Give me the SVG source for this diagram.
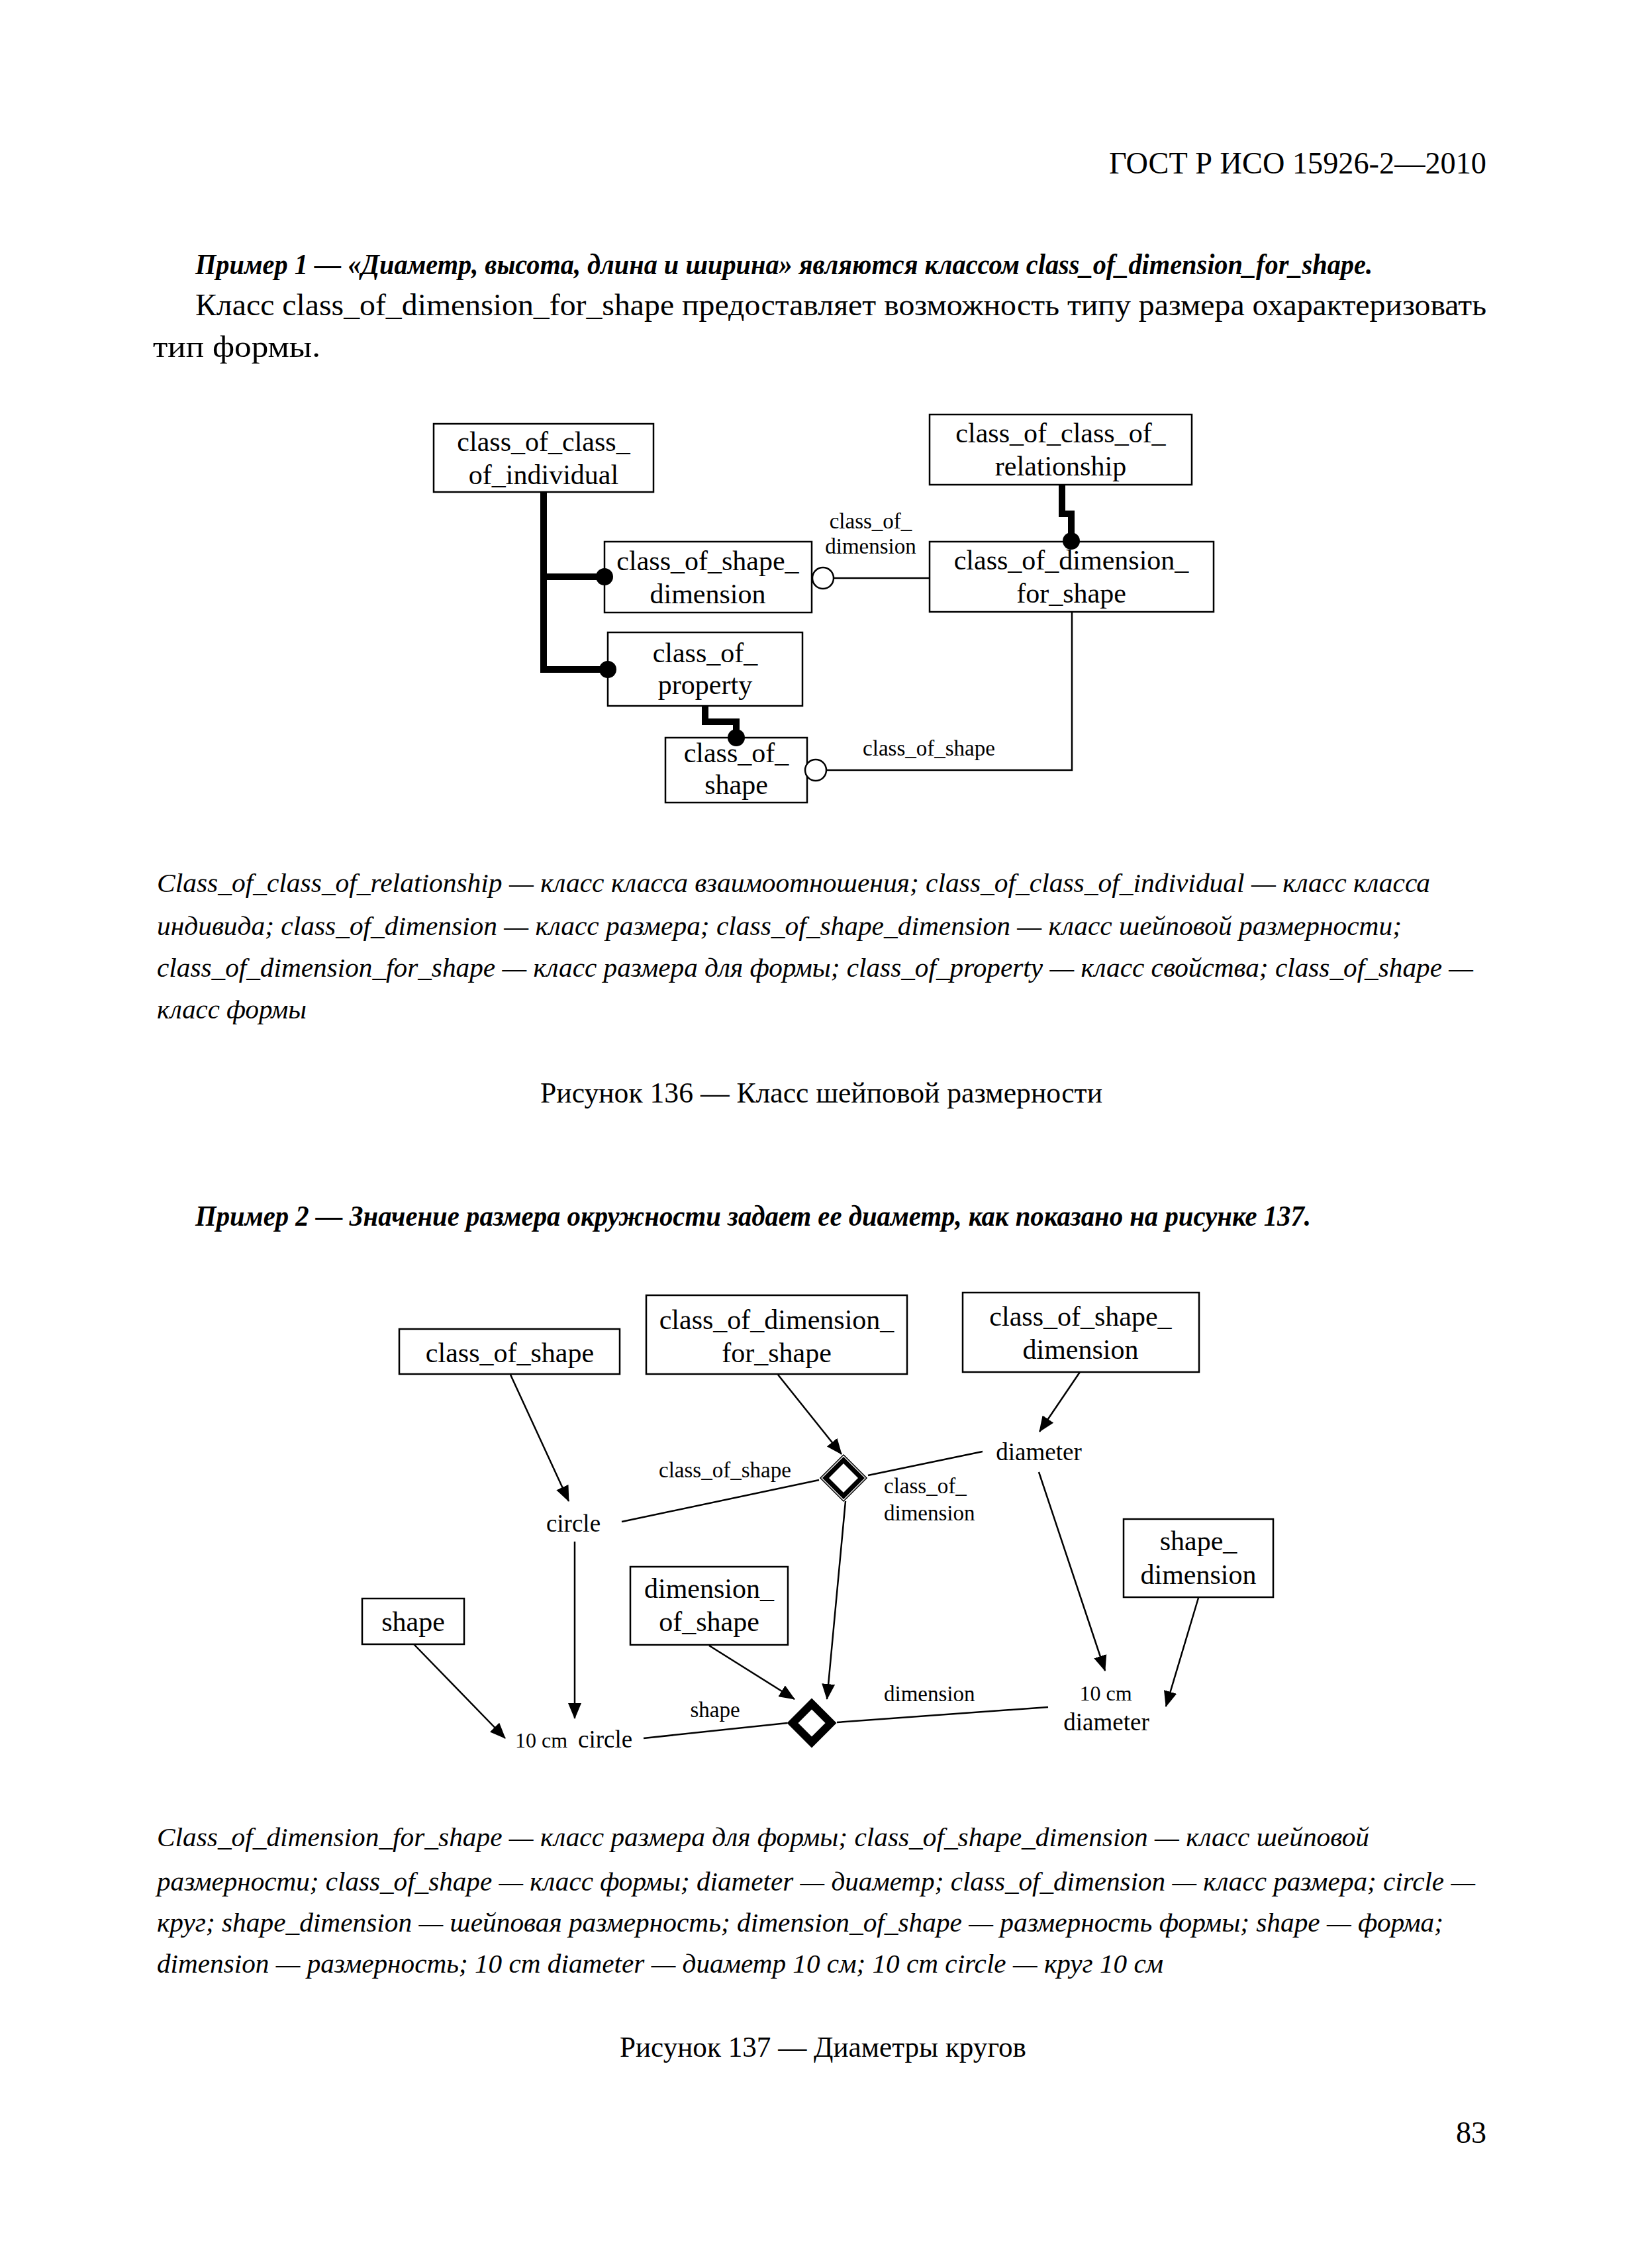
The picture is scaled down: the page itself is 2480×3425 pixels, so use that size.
<svg xmlns="http://www.w3.org/2000/svg" width="2480" height="3425" viewBox="0 0 2480 3425">
<style>
text{font-family:"Liberation Serif","Times New Roman",serif;fill:#000}
.hdr{font-size:46px}
.body{font-size:46px}
.exm{font-size:44px;font-style:italic;font-weight:bold}
.cap{font-size:41px;font-style:italic}
.ttl{font-size:44px}
.bx{font-size:42px;text-anchor:middle}
.lb{font-size:33px}
.lbm{font-size:33px;text-anchor:middle}
.nd{font-size:37px}
.ndm{font-size:37px;text-anchor:middle}
.sm{font-size:32px}
.box{fill:#fff;stroke:#000;stroke-width:2.5}
.thin{fill:none;stroke:#000;stroke-width:2.5}
.thick{fill:none;stroke:#000;stroke-width:10;stroke-linejoin:miter}
.arr{fill:none;stroke:#000;stroke-width:2.5;marker-end:url(#ah)}
.dot{fill:#000}
.oc{fill:#fff;stroke:#000;stroke-width:2.5}
</style>
<defs>
<marker id="ah" markerUnits="userSpaceOnUse" markerWidth="24" markerHeight="20" refX="23" refY="10" orient="auto">
<path d="M0,0 L24,10 L0,20 z" fill="#000"/>
</marker>
</defs>
<rect width="2480" height="3425" fill="#fff"/>

<!-- page text -->
<text class="hdr" x="1675" y="262" textLength="570" lengthAdjust="spacingAndGlyphs">ГОСТ Р ИСО 15926-2—2010</text>
<text class="exm" x="295" y="414" textLength="1778" lengthAdjust="spacingAndGlyphs">Пример 1 — «Диаметр, высота, длина и ширина» являются классом class_of_dimension_for_shape.</text>
<text class="body" x="295" y="476" textLength="1950" lengthAdjust="spacingAndGlyphs">Класс class_of_dimension_for_shape предоставляет возможность типу размера охарактеризовать</text>
<text class="body" x="231" y="539" textLength="253" lengthAdjust="spacingAndGlyphs">тип формы.</text>

<!-- Figure 136 connectors -->
<g id="connectors136">
<path class="thick" d="M821,743 V1011 H912"/>
<path class="thick" d="M821,871 H907"/>
<path class="thick" d="M1065,1066 V1090 H1112 V1108"/>
<path class="thick" d="M1604,732 V776 H1618 V812"/>
<path class="thin" d="M1259,873 H1404"/>
<path class="thin" d="M1619,924 V1163 H1248"/>
<text class="lbm" x="1315" y="798">class_of_</text>
<text class="lbm" x="1315" y="836">dimension</text>
<text class="lbm" x="1403" y="1141">class_of_shape</text>
</g>

<g id="n136_individual">
<rect class="box" x="655" y="640" width="332" height="103"/>
<text class="bx" x="821" y="681">class_of_class_</text>
<text class="bx" x="821" y="731">of_individual</text>
</g>
<g id="n136_relationship">
<rect class="box" x="1404" y="626" width="396" height="106"/>
<text class="bx" x="1602" y="668">class_of_class_of_</text>
<text class="bx" x="1602" y="718">relationship</text>
</g>
<g id="n136_shape_dimension">
<rect class="box" x="913" y="818" width="313" height="107"/>
<text class="bx" x="1069" y="861">class_of_shape_</text>
<text class="bx" x="1069" y="911">dimension</text>
</g>
<g id="n136_dimension_for_shape">
<rect class="box" x="1404" y="818" width="429" height="106"/>
<text class="bx" x="1618" y="860">class_of_dimension_</text>
<text class="bx" x="1618" y="910">for_shape</text>
</g>
<g id="n136_property">
<rect class="box" x="918" y="955" width="294" height="111"/>
<text class="bx" x="1065" y="1000">class_of_</text>
<text class="bx" x="1065" y="1048">property</text>
</g>
<g id="n136_class_of_shape">
<rect class="box" x="1005" y="1114" width="214" height="98"/>
<text class="bx" x="1112" y="1151">class_of_</text>
<text class="bx" x="1112" y="1199">shape</text>
</g>
<g id="ends136">
<circle class="dot" cx="913" cy="871" r="13"/>
<circle class="dot" cx="918" cy="1011" r="13"/>
<circle class="dot" cx="1112" cy="1114" r="13"/>
<circle class="dot" cx="1618" cy="817" r="13"/>
<circle class="oc" cx="1243" cy="873" r="16"/>
<circle class="oc" cx="1232" cy="1163" r="16"/>
</g>

<text class="cap" x="237" y="1347" textLength="1923" lengthAdjust="spacingAndGlyphs">Class_of_class_of_relationship — класс класса взаимоотношения; class_of_class_of_individual — класс класса</text>
<text class="cap" x="237" y="1412" textLength="1880" lengthAdjust="spacingAndGlyphs">индивида; class_of_dimension — класс размера; class_of_shape_dimension — класс шейповой размерности;</text>
<text class="cap" x="237" y="1475" textLength="1988" lengthAdjust="spacingAndGlyphs">class_of_dimension_for_shape — класс размера для формы; class_of_property — класс свойства; class_of_shape —</text>
<text class="cap" x="237" y="1538" textLength="226" lengthAdjust="spacingAndGlyphs">класс формы</text>
<text class="ttl" x="816" y="1665" textLength="849" lengthAdjust="spacingAndGlyphs">Рисунок 136 — Класс шейповой размерности</text>

<text class="exm" x="295" y="1851" textLength="1685" lengthAdjust="spacingAndGlyphs">Пример 2 — Значение размера окружности задает ее диаметр, как показано на рисунке 137.</text>

<!-- Figure 137 connectors -->
<g id="connectors137">
<path class="arr" d="M771,2076 L859,2267"/>
<path class="thin" d="M939,2298 L1237,2235"/>
<path class="arr" d="M1175,2076 L1271,2196"/>
<path class="thin" d="M1311,2228 L1484,2192"/>
<path class="arr" d="M1631,2072 L1570,2162"/>
<path class="arr" d="M1277,2267 L1249,2566"/>
<path class="arr" d="M868,2328 L868,2595"/>
<path class="arr" d="M625,2483 L763,2625"/>
<path class="arr" d="M1071,2485 L1200,2566"/>
<path class="thin" d="M972,2625 L1189,2602"/>
<path class="thin" d="M1264,2601 L1583,2578"/>
<path class="arr" d="M1569,2223 L1669,2523"/>
<path class="arr" d="M1810,2413 L1761,2577"/>
<text class="lb" x="995" y="2231">class_of_shape</text>
<text class="lb" x="1335" y="2255">class_of_</text>
<text class="lb" x="1335" y="2296">dimension</text>
<text class="lbm" x="1080" y="2593">shape</text>
<text class="lb" x="1335" y="2569">dimension</text>
</g>

<g id="n137_class_of_shape">
<rect class="box" x="603" y="2007" width="333" height="68"/>
<text class="bx" x="770" y="2057">class_of_shape</text>
</g>
<g id="n137_dimension_for_shape">
<rect class="box" x="976" y="1956" width="394" height="119"/>
<text class="bx" x="1173" y="2007">class_of_dimension_</text>
<text class="bx" x="1173" y="2057">for_shape</text>
</g>
<g id="n137_shape_dimension_class">
<rect class="box" x="1454" y="1952" width="357" height="120"/>
<text class="bx" x="1632" y="2002">class_of_shape_</text>
<text class="bx" x="1632" y="2052">dimension</text>
</g>
<g id="n137_shape_dimension">
<rect class="box" x="1697" y="2294" width="226" height="118"/>
<text class="bx" x="1810" y="2341">shape_</text>
<text class="bx" x="1810" y="2392">dimension</text>
</g>
<g id="n137_dimension_of_shape">
<rect class="box" x="952" y="2366" width="238" height="118"/>
<text class="bx" x="1071" y="2413">dimension_</text>
<text class="bx" x="1071" y="2463">of_shape</text>
</g>
<g id="n137_shape">
<rect class="box" x="547" y="2414" width="154" height="69"/>
<text class="bx" x="624" y="2463">shape</text>
</g>
<g id="n137_circle">
<text class="ndm" x="866" y="2313">circle</text>
</g>
<g id="n137_diameter">
<text class="ndm" x="1569" y="2205">diameter</text>
</g>
<g id="n137_10cm_circle">
<text class="sm" x="778" y="2639">10 cm</text>
<text class="nd" x="873" y="2639">circle</text>
</g>
<g id="n137_10cm_diameter">
<text class="sm" x="1670" y="2568" text-anchor="middle">10 cm</text>
<text class="ndm" x="1671" y="2613">diameter</text>
</g>
<g id="n137_classification">
<path d="M1274,2203 L1303,2232 L1274,2261 L1245,2232 Z" fill="#fff" stroke="#000" stroke-width="10" stroke-linejoin="miter"/>
<path d="M1274,2199 L1307,2232 L1274,2265 L1241,2232 Z" fill="none" stroke="#fff" stroke-width="1.3"/>
</g>
<g id="n137_relationship">
<path d="M1226,2573 L1255,2602 L1226,2631 L1197,2602 Z" fill="#fff" stroke="#000" stroke-width="12" stroke-linejoin="miter"/>
</g>

<text class="cap" x="237" y="2788" textLength="1831" lengthAdjust="spacingAndGlyphs">Class_of_dimension_for_shape — класс размера для формы; class_of_shape_dimension — класс шейповой</text>
<text class="cap" x="237" y="2855" textLength="1991" lengthAdjust="spacingAndGlyphs">размерности; class_of_shape — класс формы; diameter — диаметр; class_of_dimension — класс размера; circle —</text>
<text class="cap" x="237" y="2917" textLength="1943" lengthAdjust="spacingAndGlyphs">круг; shape_dimension — шейповая размерность; dimension_of_shape — размерность формы; shape — форма;</text>
<text class="cap" x="237" y="2979" textLength="1520" lengthAdjust="spacingAndGlyphs">dimension — размерность; 10 cm diameter — диаметр 10 см; 10 cm circle — круг 10 см</text>
<text class="ttl" x="936" y="3106" textLength="614" lengthAdjust="spacingAndGlyphs">Рисунок 137 — Диаметры кругов</text>
<text class="hdr" x="2245" y="3236" text-anchor="end">83</text>
</svg>
